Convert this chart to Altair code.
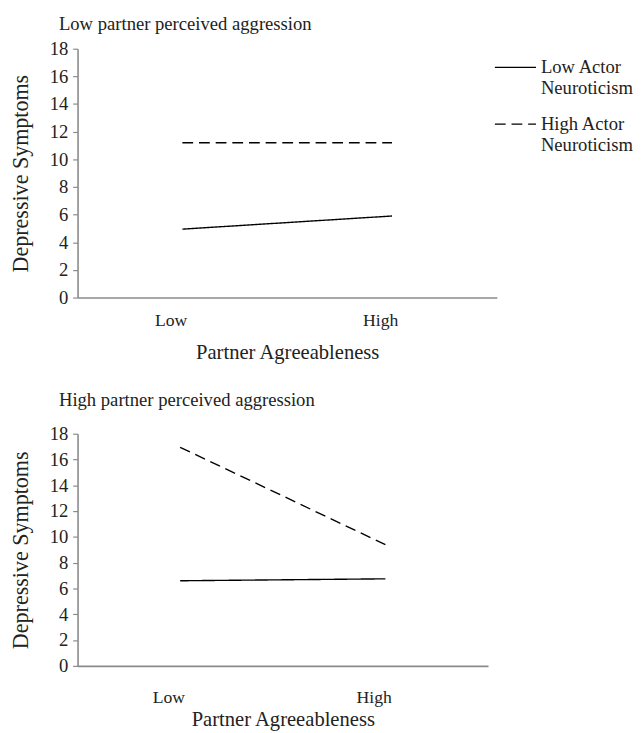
import altair as alt
import pandas as pd

levels = ["Low", "High"]
series = ["Low Actor Neuroticism", "High Actor Neuroticism"]
y_ticks = [0, 2, 4, 6, 8, 10, 12, 14, 16, 18]

# Low partner perceived aggression
top_low_neuro = [4.95, 5.9]
top_high_neuro = [11.2, 11.2]
# High partner perceived aggression
bot_low_neuro = [6.6, 6.75]
bot_high_neuro = [16.95, 9.4]

FONT = "Liberation Serif"
INK = "#222222"
AXIS_GREY = "#8a8a8a"


def frame(low_vals, high_vals):
    rows = []
    for lvl, v in zip(levels, low_vals):
        rows.append({"agree": lvl, "dep": v, "neuro": series[0]})
    for lvl, v in zip(levels, high_vals):
        rows.append({"agree": lvl, "dep": v, "neuro": series[1]})
    return pd.DataFrame(rows)


def panel(df, title, width, height, legend, x_label_pad, x_title_pad, title_offset):
    return alt.Chart(df).mark_line(color="black", strokeWidth=1.4).encode(
        x=alt.X("agree:N", sort=levels,
                scale=alt.Scale(type="point", padding=0.5),
                axis=alt.Axis(title="Partner Agreeableness", labelAngle=0, ticks=False,
                              labelOffset=-12, labelPadding=x_label_pad,
                              titlePadding=x_title_pad,
                              labelFont=FONT, labelFontSize=18, labelColor=INK,
                              titleFont=FONT, titleFontSize=21, titleFontWeight="normal",
                              titleColor=INK, domainColor=AXIS_GREY, domainWidth=1.6,
                              grid=False)),
        y=alt.Y("dep:Q", scale=alt.Scale(domain=[0, 18], nice=False),
                axis=alt.Axis(values=y_ticks, title="Depressive Symptoms", tickSize=5,
                              tickColor=AXIS_GREY, tickWidth=1.2,
                              domainColor=AXIS_GREY, domainWidth=1.6,
                              labelFont=FONT, labelFontSize=19, labelColor=INK,
                              labelPadding=5, titlePadding=17,
                              titleFont=FONT, titleFontSize=22.5, titleFontWeight="normal",
                              titleColor=INK, grid=False)),
        strokeDash=alt.StrokeDash("neuro:N", sort=series,
                                  scale=alt.Scale(domain=series, range=[[1, 0], [11, 6]]),
                                  legend=legend),
        detail="neuro:N",
    ).properties(
        width=width, height=height,
        title=alt.TitleParams(title, anchor="start", frame="group", font=FONT,
                              fontSize=19, fontWeight="normal", color=INK,
                              dx=-19, offset=title_offset),
    )


legend = alt.Legend(
    title=None, orient="none", legendX=425, legendY=-3,
    symbolType="stroke", symbolSize=1764, symbolStrokeWidth=1.4, symbolStrokeColor="black",
    labelFont=FONT, labelFontSize=19, labelColor=INK, labelOffset=4,
    labelExpr="datum.label == 'Low Actor Neuroticism' ? ['Low Actor', 'Neuroticism'] : ['High Actor', 'Neuroticism']",
    rowPadding=5, labelLimit=200,
)

top = panel(frame(top_low_neuro, top_high_neuro), "Low partner perceived aggression",
            428, 254, legend, 15, 12, 6)
bottom = panel(frame(bot_low_neuro, bot_high_neuro), "High partner perceived aggression",
               419, 237, None, 23, 3, 15)

chart = alt.vconcat(top, bottom, spacing=30).resolve_scale(
    strokeDash="independent", x="independent", y="independent"
).resolve_legend(strokeDash="independent").configure_view(stroke=None).properties(
    padding={"left": 2, "top": 0, "right": 0, "bottom": 0}
)

chart.save("out.html", embed_options={"renderer": "svg", "actions": False})
